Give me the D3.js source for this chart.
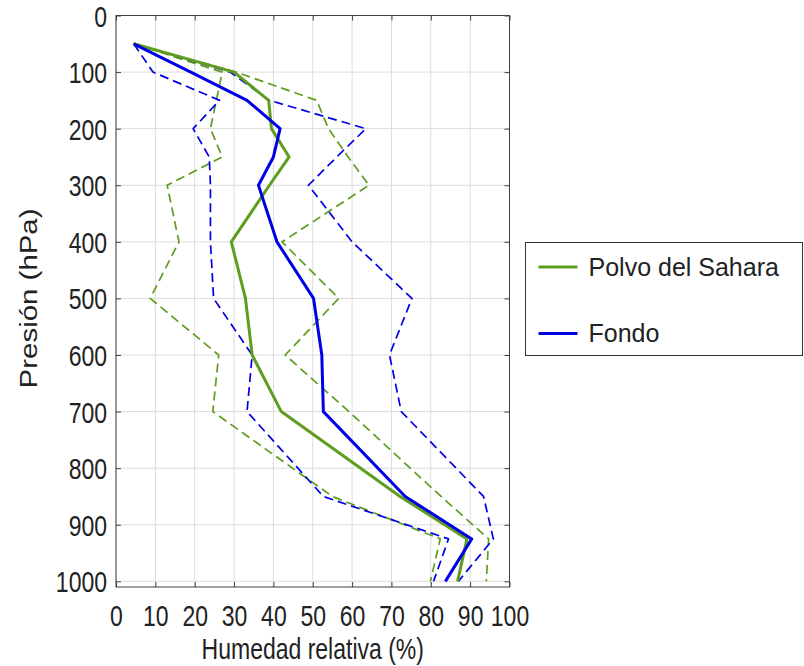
<!DOCTYPE html>
<html>
<head>
<meta charset="utf-8">
<script src="https://cdn.jsdelivr.net/npm/d3@7"></script>
<style>
  body { margin: 0; background: #fff; }
  svg { display: block; font-family: "Liberation Sans", Arial, sans-serif; }
</style>
</head>
<body>
<div id="chart"></div>
<script>
// pressure levels (hPa) shared by every profile
var pressure = [50, 100, 150, 200, 250, 300, 400, 500, 600, 700, 850, 925, 1000];

// relative humidity (%)
var saharaMean = [4.5, 30, 38.8, 39.5, 44, 39, 29.3, 32.9, 34.6, 42, 72.2, 89.2, 86.8];
var saharaLow  = [4.5, 27, 25.5, 24, 27, 13, 16, 8.7, 26.1, 24.6, 55, 82.4, 79.9];
var saharaHigh = [4.5, 30.5, 51, 54, 59, 64.3, 42.2, 56.6, 43, 59.2, 82.6, 94.7, 94.1];
var fondoMean  = [4.5, 19, 33.3, 41.7, 40, 36.2, 40.9, 50.2, 52.3, 52.7, 73.5, 90.4, 83.7];
var fondoLow   = [4.5, 9.4, 26.3, 19.6, 23.7, 24, 24, 24.8, 34.6, 33.3, 52.7, 84.5, 80.7];
var fondoHigh  = [4.5, 29, 39, 63.5, 56.1, 48.9, 60, 75.2, 69.5, 72.5, 93.4, 95.9, 87];

var xTicks = d3.range(0, 101, 10);
var yTicks = d3.range(0, 1001, 100);
var legendLabels = ["Polvo del Sahara", "Fondo"];

var green = "#5f9d1f", blue = "#0000e6";
var stretch = 1.28; // the picture's text is drawn taller than wide

var margin = {top: 15.5, right: 294.5, bottom: 79, left: 116};
var width = 804 - margin.left - margin.right;
var height = 666 - margin.top - margin.bottom;

var x = d3.scaleLinear().domain([0, 100]).range([0, width]);
var y = d3.scaleLinear().domain([0, 1010]).range([0, height]);

var svg = d3.select("#chart").append("svg")
  .attr("width", 804).attr("height", 666);
var g = svg.append("g")
  .attr("transform", "translate(" + margin.left + "," + margin.top + ")");

// grid
g.append("g").selectAll("line").data(xTicks).enter().append("line")
  .attr("x1", function(d) { return x(d); }).attr("x2", function(d) { return x(d); })
  .attr("y1", 0).attr("y2", height)
  .attr("stroke", "#dcdcdc").attr("stroke-width", 1);
g.append("g").selectAll("line").data(yTicks).enter().append("line")
  .attr("y1", function(d) { return y(d); }).attr("y2", function(d) { return y(d); })
  .attr("x1", 0).attr("x2", width)
  .attr("stroke", "#dcdcdc").attr("stroke-width", 1);

// axes, ticks pointing inward on all four sides
function styleAxis(sel) {
  sel.select(".domain").remove();
  sel.selectAll(".tick line").attr("stroke", "#404040");
  sel.selectAll("text").attr("fill", "#222").style("font-size", "23px");
}
g.append("g").attr("transform", "translate(0," + height + ")")
  .call(d3.axisBottom(x).tickValues(xTicks).tickSize(-5))
  .call(styleAxis)
  .selectAll("text")
  .attr("y", 0).attr("dy", null)
  .attr("transform", "translate(0,39) scale(1," + stretch + ")");
g.append("g")
  .call(d3.axisTop(x).tickValues(xTicks).tickSize(-5).tickFormat(""))
  .call(styleAxis);
g.append("g")
  .call(d3.axisLeft(y).tickValues(yTicks).tickSize(-5).tickFormat(d3.format("d")))
  .call(styleAxis)
  .selectAll("text")
  .attr("x", 0).attr("dy", null)
  .attr("transform", "translate(-9,10.5) scale(1," + stretch + ")");
g.append("g").attr("transform", "translate(" + width + ",0)")
  .call(d3.axisRight(y).tickValues(yTicks).tickSize(-5).tickFormat(""))
  .call(styleAxis);

// profiles
var series = [
  {vals: saharaLow, color: green, dash: true},
  {vals: saharaHigh, color: green, dash: true},
  {vals: fondoLow, color: blue, dash: true},
  {vals: fondoHigh, color: blue, dash: true},
  {vals: saharaMean, color: green, dash: false},
  {vals: fondoMean, color: blue, dash: false}
];
var line = d3.line()
  .x(function(d) { return x(d.v); })
  .y(function(d) { return y(d.p); });

series.forEach(function(s) {
  var pts = pressure.map(function(p, i) { return {p: p, v: s.vals[i]}; });
  g.append("path").datum(pts)
    .attr("d", line)
    .attr("fill", "none")
    .attr("stroke", s.color)
    .attr("stroke-width", s.dash ? 1.7 : 3)
    .attr("stroke-linejoin", "round")
    .attr("stroke-dasharray", s.dash ? "9,5" : null);
});

// box
g.append("rect").attr("width", width).attr("height", height)
  .attr("fill", "none").attr("stroke", "#404040").attr("stroke-width", 1);

// axis titles
svg.append("text")
  .attr("transform", "translate(" + (margin.left + width / 2) + ",659) scale(1," + stretch + ")")
  .attr("text-anchor", "middle").attr("fill", "#222")
  .style("font-size", "23px")
  .text("Humedad relativa (%)");
svg.append("text")
  .attr("transform", "translate(37," + (margin.top + y(500)) + ") scale(1," + stretch + ") rotate(-90)")
  .attr("text-anchor", "middle").attr("fill", "#222")
  .style("font-size", "23px")
  .text("Presión (hPa)");

// legend
var lg = svg.append("g").attr("transform", "translate(525.5,242.5)");
lg.append("rect").attr("width", 277).attr("height", 113)
  .attr("fill", "#fff").attr("stroke", "#333").attr("stroke-width", 1);
[green, blue].forEach(function(c, i) {
  var ly = 24.5 + i * 66.5;
  lg.append("line").attr("x1", 13).attr("x2", 52).attr("y1", ly).attr("y2", ly)
    .attr("stroke", c).attr("stroke-width", 3);
  lg.append("text").attr("x", 63).attr("y", ly + 8.5)
    .attr("fill", "#222").style("font-size", "25px")
    .text(legendLabels[i]);
});
</script>
</body>
</html>
